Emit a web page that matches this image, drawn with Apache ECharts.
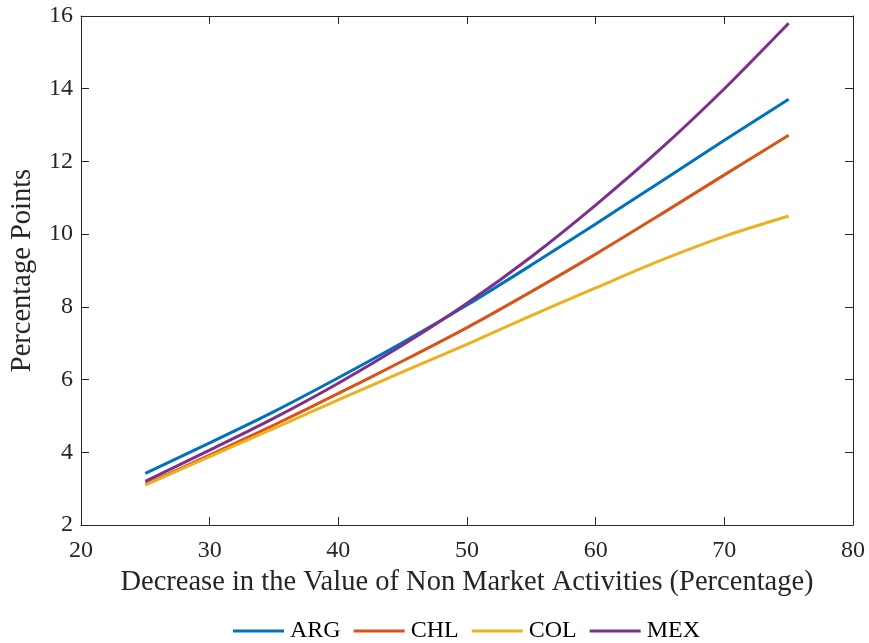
<!DOCTYPE html>
<html lang="en">
<head>
    <meta charset="UTF-8">
    <title>Percentage Points</title>
    <script src="https://cdn.jsdelivr.net/npm/echarts@6/dist/echarts.min.js"></script>
    <style>
        html, body { margin: 0; padding: 0; background: #fff; }
    </style>
</head>
<body>
    <div id="chart" style="width: 869px; height: 643px;"></div>
    <script>
        // values
        var decrease = [25, 30, 35, 40, 45, 50, 55, 60, 65, 70, 75];
        var arg = [3.42, 4.26, 5.12, 6.05, 7.02, 8.05, 9.15, 10.28, 11.43, 12.58, 13.71];
        var chl = [3.12, 3.92, 4.75, 5.62, 6.51, 7.43, 8.42, 9.45, 10.53, 11.63, 12.72];
        var col = [3.10, 3.88, 4.66, 5.44, 6.21, 6.97, 7.76, 8.52, 9.27, 9.94, 10.5];
        var mex = [3.20, 4.06, 4.94, 5.90, 6.95, 8.10, 9.38, 10.80, 12.33, 14.0, 15.8];
        var seriesNames = ['ARG', 'CHL', 'COL', 'MEX'];
        var colors = ['#0072BD', '#D95319', '#EDB120', '#7E2F8E'];

        var font = 'Liberation Serif';
        var axisColor = '#262626';

        function pairs(ys) {
            return decrease.map(function (x, i) { return [x, ys[i]]; });
        }

        var chart = echarts.init(document.getElementById('chart'));

        var baseX = {
            type: 'value', min: 20, max: 80, interval: 10,
            axisLine: { show: true, onZero: false, lineStyle: { color: axisColor, width: 1 } },
            axisTick: { show: true, inside: true, length: 8, lineStyle: { color: axisColor } },
            splitLine: { show: false }
        };
        var baseY = {
            type: 'value', min: 2, max: 16, interval: 2,
            axisLine: { show: true, onZero: false, lineStyle: { color: axisColor, width: 1 } },
            axisTick: { show: true, inside: true, length: 8, lineStyle: { color: axisColor } },
            splitLine: { show: false }
        };

        var option = {
            animation: false,
            textStyle: { fontFamily: font },
            grid: { left: 78, right: 16, top: 16, bottom: 118 },
            legend: {
                top: 614,
                left: 228,
                itemWidth: 51,
                itemHeight: 3,
                itemGap: 13,
                icon: 'rect',
                textStyle: { fontFamily: font, fontSize: 24, color: '#000', padding: [0, 0, 0, 1] },
                data: seriesNames
            },
            xAxis: [
                Object.assign({}, baseX, {
                    position: 'bottom',
                    name: 'Decrease in the Value of Non Market Activities (Percentage)',
                    nameLocation: 'middle',
                    nameGap: 42,
                    nameTextStyle: { fontFamily: font, fontSize: 28.5, color: '#262626' },
                    axisLabel: { fontFamily: font, fontSize: 24, color: '#262626', margin: 14 }
                }),
                Object.assign({}, baseX, {
                    position: 'top',
                    axisLabel: { show: false }
                })
            ],
            yAxis: [
                Object.assign({}, baseY, {
                    position: 'left',
                    name: 'Percentage Points',
                    nameLocation: 'middle',
                    nameGap: 44,
                    nameTextStyle: { fontFamily: font, fontSize: 28.5, color: '#262626' },
                    axisLabel: { fontFamily: font, fontSize: 24, color: '#262626', margin: 8 }
                }),
                Object.assign({}, baseY, {
                    position: 'right',
                    axisLabel: { show: false }
                })
            ],
            series: seriesNames.map(function (name, i) {
                var data = [arg, chl, col, mex][i];
                return {
                    name: name,
                    type: 'line',
                    data: pairs(data),
                    smooth: 0.3,
                    showSymbol: false,
                    lineStyle: { width: 3, color: colors[i] },
                    itemStyle: { color: colors[i] }
                };
            })
        };

        chart.setOption(option);
    </script>
</body>
</html>
